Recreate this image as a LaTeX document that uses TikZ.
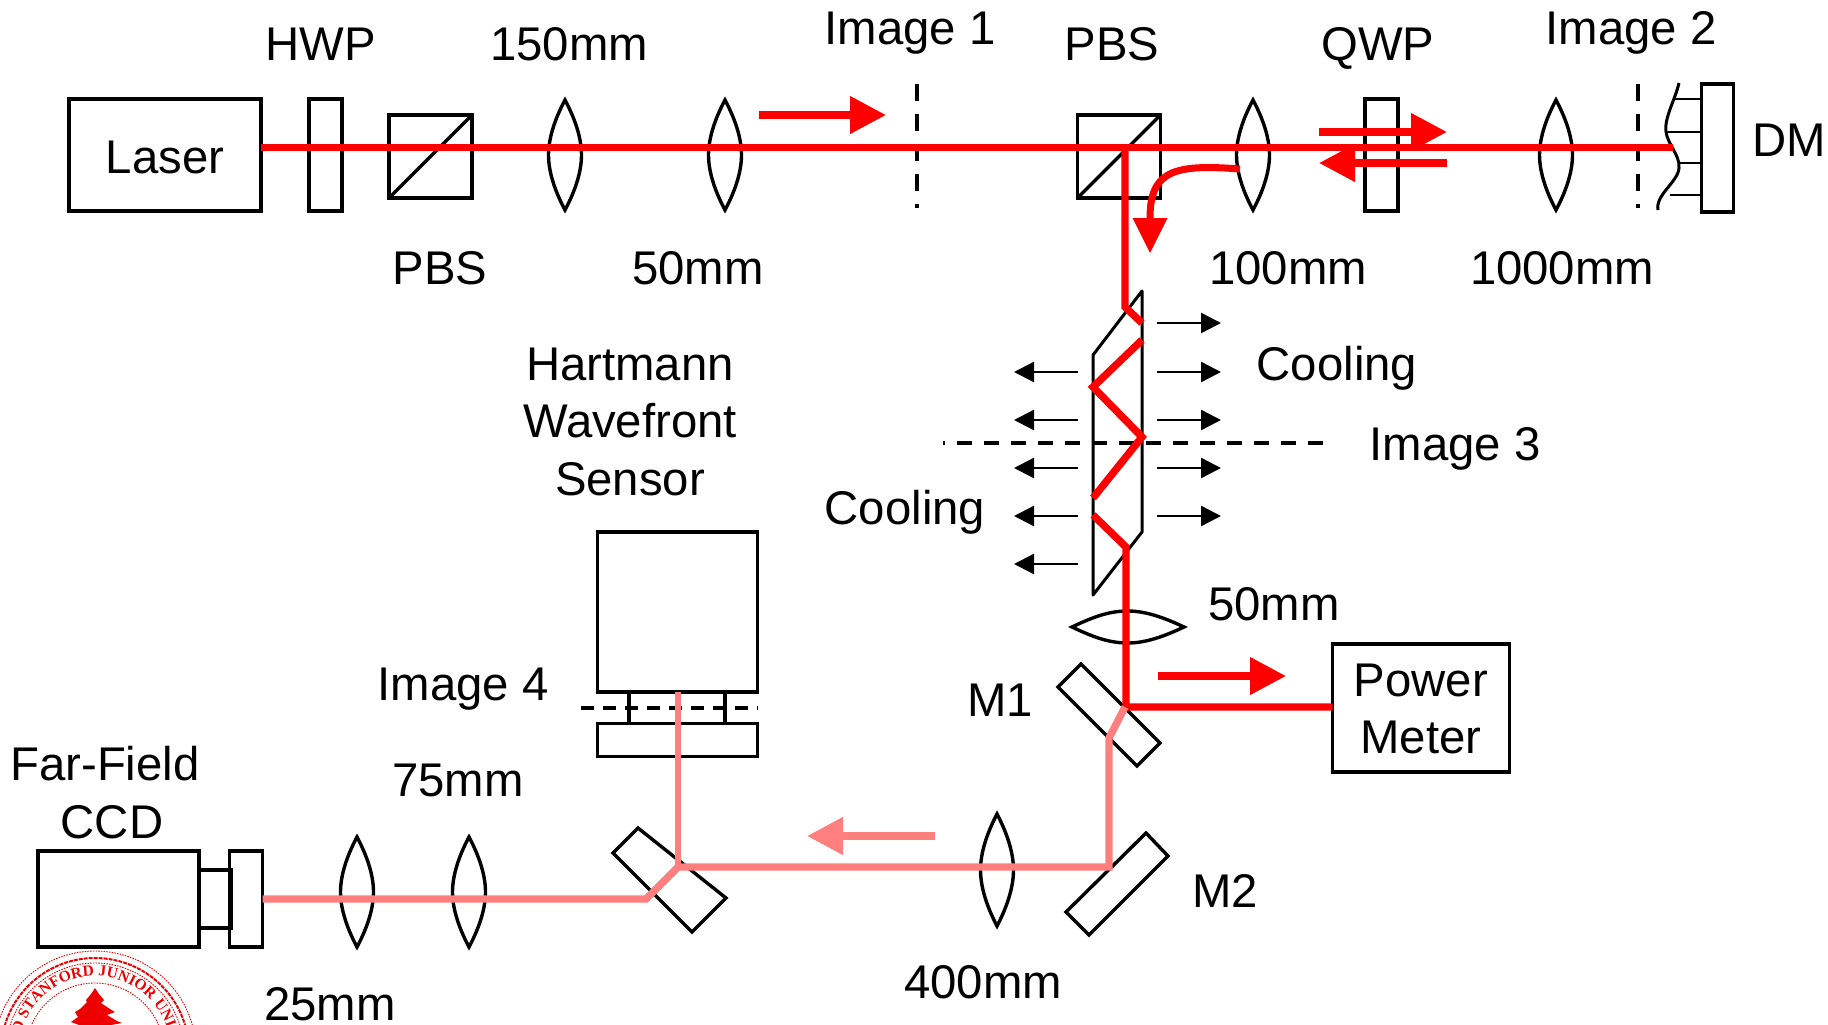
\documentclass[tikz,border=0pt]{standalone}
\usepackage{fontspec}
\usetikzlibrary{arrows.meta,decorations.text}
\setmainfont{Liberation Sans}
\newfontfamily\sealfont[BoldFont={Liberation Serif Bold}]{Liberation Serif}
\definecolor{beamred}{HTML}{FF0000}
\definecolor{beampink}{HTML}{FF7F7F}
\definecolor{sealred}{HTML}{EE0000}
\tikzset{
  box/.style={draw=black,line width=3.4pt,inner sep=0pt,outer sep=0pt,align=center},
  optic/.style={draw=black,line width=3.4pt,line join=miter,miter limit=3},
  label/.style={anchor=base,inner sep=0pt,outer sep=0pt,font=\fontsize{47.3}{50}\selectfont},
  imgdash/.style={draw=black,line width=3.6pt,dash pattern=on 17pt off 13pt},
  beam/.style={draw=beamred,line width=7.4pt,line join=miter},
  pbeam/.style={draw=beampink,line width=7.4pt,line join=miter},
  dirarrow/.style={line width=7.5pt,-{Triangle[length=36pt,width=36pt]}},
  heatarrow/.style={draw=black,line width=2.4pt,-{Triangle[length=20pt,width=20pt]}}
}
\newcommand{\vlens}[4]{\draw[optic] (#1,#2-#3) .. controls (#1+0.5*#4,#2-0.72*#3) and (#1+#4,#2-0.35*#3) .. (#1+#4,#2) .. controls (#1+#4,#2+0.35*#3) and (#1+0.5*#4,#2+0.72*#3) .. (#1,#2+#3) .. controls (#1-0.5*#4,#2+0.72*#3) and (#1-#4,#2+0.35*#3) .. (#1-#4,#2) .. controls (#1-#4,#2-0.35*#3) and (#1-0.5*#4,#2-0.72*#3) .. cycle;}
\begin{document}
\begin{tikzpicture}[x=1pt,y=-1pt]
\useasboundingbox (0,0) rectangle (1828,1025);
\clip (0,0) rectangle (1828,1025);
\fill[white] (0,0) rectangle (1828,1025);

% top row optics
\node[box,minimum width=192pt,minimum height=112pt] (laser) at (165,155) {};
\node[label] (lasertxt) at (165,173) {Laser};
\node[box,minimum width=33pt,minimum height=112pt] (hwp) at (325.5,155) {};
\node[box,minimum width=83pt,minimum height=83pt] (pbsa) at (430.5,156.5) {};
\draw[optic] (pbsa.south west) -- (pbsa.north east);
\vlens{565}{155}{55}{16.5}
\vlens{725}{155}{55}{16.5}
\draw[imgdash] (917,84) -- (917,208);
\node[box,minimum width=83pt,minimum height=83pt] (pbsb) at (1119,156.5) {};
\draw[optic] (pbsb.south west) -- (pbsb.north east);
\vlens{1253}{155}{55}{16.5}
\node[box,minimum width=33pt,minimum height=112pt] (qwp) at (1381.5,155) {};
\vlens{1556}{155}{55}{16.5}
\draw[imgdash] (1638,84) -- (1638,208);
\node[box,minimum width=32pt,minimum height=128pt] (dm) at (1717.5,148) {};
\draw[black,line width=2.6pt] (1673,99) -- (dm.west |- 0,99) (1666,132) -- (dm.west |- 0,132) (1679,163) -- (dm.west |- 0,163) (1670,195) -- (dm.west |- 0,195);
\draw[black,line width=3pt] (1679,83) .. controls (1675,100) and (1664,118) .. (1666,132) .. controls (1668,145) and (1680,155) .. (1679,168) .. controls (1678,182) and (1655,195) .. (1658,210);
\coordinate (dmhit) at (1673,147.5);

% prism
\draw[optic,line join=round,line width=3pt] (1142,291) -- (1142,532) -- (1093,595) -- (1093,355) -- cycle;
\draw[imgdash,line width=4pt,dash pattern=on 15pt off 12pt,dash phase=13pt] (943,443) -- (1323,443);

% heat arrows
\foreach \yy in {323,372,420,468,516} \draw[heatarrow] (1157,\yy) -- (1221,\yy);
\foreach \yy in {372,420,468,516,564} \draw[heatarrow] (1078,\yy) -- (1014,\yy);

% 50 mm lens (horizontal)
\draw[optic] (1072,627) .. controls (1095,616) and (1110,611) .. (1128,611) .. controls (1146,611) and (1165,618) .. (1184,627) .. controls (1165,636) and (1146,643) .. (1128,643) .. controls (1110,643) and (1095,638) .. (1072,627) -- cycle;

% mirrors
\draw[optic] (1081,664) -- (1160,743) -- (1137,766) -- (1058,687) -- cycle;
\draw[optic] (1146,833) -- (1168,856) -- (1089,935) -- (1066,912) -- cycle;
\draw[optic] (638,828) -- (726,898) -- (692,932) -- (613,853) -- cycle;
\vlens{997}{870}{56}{16.5}

% Power meter
\node[box,minimum width=177pt,minimum height=128pt] (pm) at (1421,708) {};
\node[label] (pmt1) at (1421,696) {Power};
\node[label] (pmt2) at (1421,753) {Meter};

% Hartmann sensor
\node[box,minimum width=160pt,minimum height=160pt] (hws) at (677.5,612) {};
\node[box,minimum width=160pt,minimum height=33pt] (hwb) at (677.5,740) {};
\node[box,minimum width=96pt,minimum height=31pt] (hwm) at (677,708) {};
\draw[imgdash,dash pattern=on 13pt off 9pt] (581,708) -- (758,708);

% CCD
\node[box,minimum width=161pt,minimum height=96pt] (ccd) at (118.5,899) {};
\node[box,minimum width=32pt,minimum height=58pt] (ccdm) at (215,899) {};
\node[box,minimum width=33pt,minimum height=96pt] (ccdf) at (246,899) {};
\vlens{357}{892}{55}{16.5}
\vlens{469}{892}{55}{16.5}

% beams
\coordinate (pt) at (1125,147.5);
\draw[beam] (laser.east |- pt) -- (dmhit);
\draw[beam,line cap=butt] (pt) -- (1125,307) -- (1142,323);
\draw[beam] (1142,340) -- (1093,387) -- (1142,437) -- (1093,498);
\draw[beam] (1093,515) -- (1126,547) -- (1126,707) -- (pm.west |- 0,707);
\draw[pbeam] (1125,707) -- (1109,738) -- (1109,867) -- (678,867) -- (646,899) -- (ccdf.east |- 0,899);
\draw[pbeam,line width=6pt] (678,867) -- (678,692);
\draw[draw=beamred,line width=7pt] (1240,169) .. controls (1175,164) and (1150,170) .. (1150,218);
\fill[beamred] (1132.5,218) -- (1167.5,218) -- (1150,253) -- cycle;

% direction arrows
\draw[dirarrow,draw=beamred,fill=beamred] (759,115) -- (886,115);
\draw[dirarrow,draw=beamred,fill=beamred] (1319,132) -- (1447,132);
\draw[dirarrow,draw=beamred,fill=beamred] (1447,163) -- (1319,163);
\draw[dirarrow,draw=beamred,fill=beamred] (1158,676) -- (1286,676);
\draw[dirarrow,draw=beampink,fill=beampink] (935,836) -- (807,836);

% labels
\node[label] (t1) at (320.5,60) {HWP};
\node[label] (t2) at (569,60) {150mm};
\node[label] (t3) at (910,45) {Image 1};
\node[label] (t4) at (1112,60) {PBS};
\node[label] (t5) at (1378,60) {QWP};
\node[label] (t6) at (1631,45) {Image 2};
\node[label] (t7) at (1789,156) {DM};
\node[label] (t8) at (440,284) {PBS};
\node[label] (t9) at (698,284) {50mm};
\node[label] (t10) at (1288,284) {100mm};
\node[label] (t11) at (1562,284) {1000mm};
\node[label] (t12) at (1337,380) {Cooling};
\node[label] (t13) at (1455,460) {Image 3};
\node[label] (t14) at (905,524) {Cooling};
\node[label] (t15) at (630,380) {Hartmann};
\node[label] (t16) at (630,437) {Wavefront};
\node[label] (t17) at (630,495) {Sensor};
\node[label] (t18) at (1274,620) {50mm};
\node[label] (t19) at (1000,716) {M1};
\node[label] (t20) at (463,700) {Image 4};
\node[label] (t21) at (105,780) {Far-Field};
\node[label] (t22) at (112,838) {CCD};
\node[label] (t23) at (458,796) {75mm};
\node[label] (t24) at (1225,907) {M2};
\node[label] (t25) at (330,1020) {25mm};
\node[label] (t26) at (983,998) {400mm};

% seal
\begin{scope}[shift={(95,1052)},x=1pt,y=1pt]
  \draw[sealred,line width=0.9pt,dash pattern=on 1.5pt off 1.2pt] (0,0) circle (101pt);
  \draw[sealred,line width=2pt,dash pattern=on 4pt off 1pt] (0,0) circle (94pt);
  \draw[sealred,line width=0.9pt,dash pattern=on 1.5pt off 1.2pt] (0,0) circle (89pt);
  \draw[sealred,line width=0.9pt,dash pattern=on 1.5pt off 1.2pt] (0,0) circle (69pt);
  \path[decorate,decoration={text along path,text align=left,text={|\sealfont\bfseries\fontsize{15.5}{16}\selectfont\color{sealred}|LELAND STANFORD JUNIOR UNIVERSITY}}]
    (206.4:76pt) arc[start angle=206.4,end angle=-60,radius=76pt];
  \fill[sealred] (0,64) -- (4,58) -- (9,52) -- (6,49) -- (15,43) -- (20,40) -- (12,37) -- (22,31) -- (27,29) -- (16,27) -- (26,21) -- (-26,21) -- (-16,27) -- (-24,30) -- (-17,35) -- (-20,40) -- (-15,43) -- (-8,50) -- (-9,52) -- (-4,58) -- cycle;
\end{scope}
\end{tikzpicture}
\end{document}
